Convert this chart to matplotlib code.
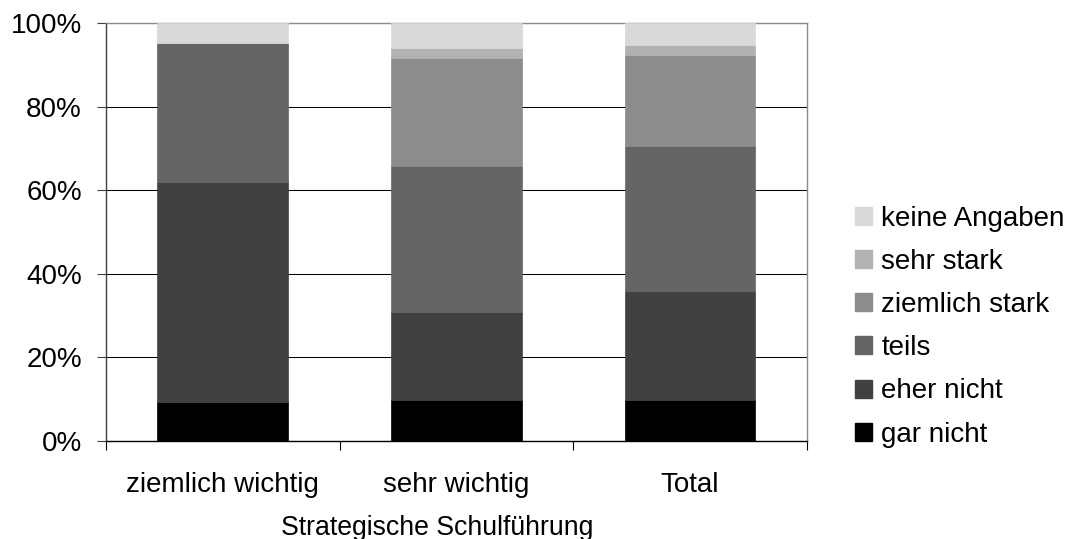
import matplotlib
matplotlib.use("Agg")
import matplotlib.pyplot as plt
from matplotlib.patches import Patch
from matplotlib.ticker import FixedLocator, PercentFormatter

plt.rcParams["font.family"] = ["Liberation Sans", "DejaVu Sans"]

categories = ["ziemlich wichtig", "sehr wichtig", "Total"]
series_names = ["gar nicht", "eher nicht", "teils", "ziemlich stark", "sehr stark", "keine Angaben"]
gar_nicht = [9.3, 9.7, 9.7]
eher_nicht = [52.6, 21.1, 26.2]
teils = [33.3, 35.1, 34.6]
ziemlich_stark = [0.0, 25.7, 21.9]
sehr_stark = [0.0, 2.5, 2.3]
keine_angaben = [4.8, 5.9, 5.3]
series_values = [gar_nicht, eher_nicht, teils, ziemlich_stark, sehr_stark, keine_angaben]
colors = ["#000000", "#414141", "#656565", "#8c8c8c", "#b2b2b2", "#d9d9d9"]
y_ticks = [0, 20, 40, 60, 80, 100]

fig = plt.figure(figsize=(10.73, 5.39), dpi=100)
ax = fig.add_axes([0.0988, 0.1827, 0.6530, 0.7741])

x = list(range(len(categories)))
bottoms = [0.0] * len(categories)
for name, vals, col in zip(series_names, series_values, colors):
    ax.bar(x, vals, width=0.56, bottom=bottoms, color=col, label=name,
           edgecolor=col, linewidth=0.5, zorder=3)
    bottoms = [b + v for b, v in zip(bottoms, vals)]

ax.set_xlim(-0.5, len(categories) - 0.5)
ax.set_ylim(0, 100)
ax.yaxis.set_major_locator(FixedLocator(y_ticks))
ax.yaxis.set_major_formatter(PercentFormatter(decimals=0))
ax.yaxis.grid(True, color="#000000", linewidth=0.75, zorder=0)
ax.set_axisbelow(True)

# category boundaries carry tick marks, labels sit between them
ax.set_xticks([-0.5, 0.5, 1.5, 2.5])
ax.set_xticklabels([])
ax.set_xticks(x, minor=True)
ax.set_xticklabels(categories, minor=True)
ax.tick_params(axis="x", which="major", direction="out", length=6.5, width=0.8, color="#000000")
ax.tick_params(axis="x", which="minor", length=0, labelsize=20, pad=22.5)
ax.tick_params(axis="y", direction="out", length=6.5, width=0.8, color="#404040",
               labelsize=20, pad=10.8)
ax.set_xlabel("Strategische Schulführung", fontsize=19.2, labelpad=11)
ax.xaxis.set_label_coords(0.472, -0.178)

for side, col in [("left", "#404040"), ("bottom", "#000000"),
                  ("right", "#8c8c8c"), ("top", "#8c8c8c")]:
    ax.spines[side].set_color(col)
    ax.spines[side].set_linewidth(1.0)

handles = [Patch(facecolor=c, edgecolor=c) for c in colors][::-1]
labels = series_names[::-1]
fig.legend(handles, labels, loc="center left", bbox_to_anchor=(0.797, 0.394),
           frameon=False, fontsize=20, handlelength=0.62, handleheight=0.62,
           handletextpad=0.32, labelspacing=0.62, borderpad=0, borderaxespad=0)

fig.savefig("out.png", dpi=100)
